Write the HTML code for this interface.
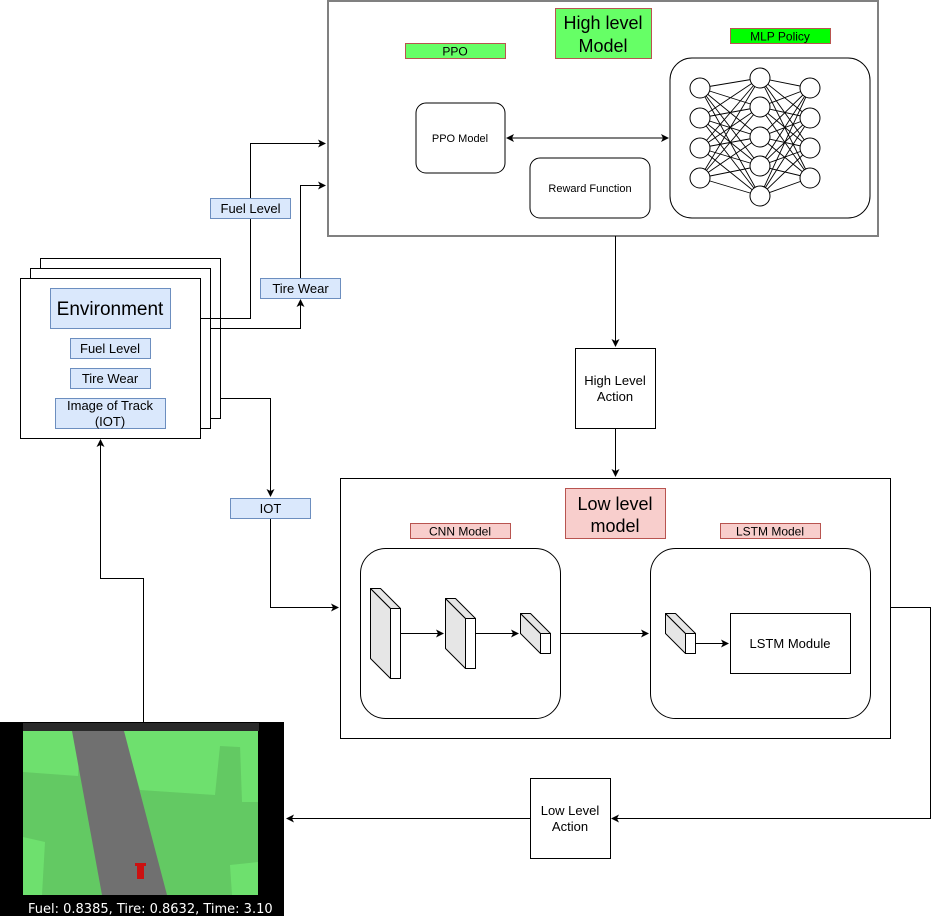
<!DOCTYPE html>
<html><head><meta charset="utf-8"><style>
html,body{margin:0;padding:0;background:#fff;}
svg{display:block;font-family:"Liberation Sans",Arial,sans-serif;}
</style></head><body>
<svg width="939" height="916" viewBox="0 0 939 916" xmlns="http://www.w3.org/2000/svg">
<defs>
<marker id="a" markerWidth="8" markerHeight="8" refX="7" refY="4" orient="auto" markerUnits="userSpaceOnUse">
<path d="M0,0 L8,4 L0,8 L2,4 Z" fill="#000"/></marker>
<marker id="as" markerWidth="8" markerHeight="8" refX="1" refY="4" orient="auto" markerUnits="userSpaceOnUse">
<path d="M8,0 L0,4 L8,8 L6,4 Z" fill="#000"/></marker>
</defs>
<rect width="939" height="916" fill="#fff"/>

<!-- High level box -->
<rect x="328" y="1" width="550" height="235" fill="#fff" stroke="#808080" stroke-width="2"/>
<rect x="405.5" y="43.5" width="100" height="15" fill="#66ff66" stroke="#b85450"/>
<text x="455" y="55.5" font-size="12" text-anchor="middle">PPO</text>
<rect x="555.5" y="8.5" width="96" height="50" fill="#66ff66" stroke="#b85450"/>
<text x="603" y="29" font-size="18" text-anchor="middle">High level</text>
<text x="603" y="52" font-size="18" text-anchor="middle">Model</text>
<rect x="730.5" y="28.5" width="100" height="15" fill="#00ff00" stroke="#b85450"/>
<text x="780" y="40.5" font-size="12" text-anchor="middle">MLP Policy</text>
<rect x="416" y="103" width="89" height="70" rx="10" fill="#fff" stroke="#000"/>
<text x="460" y="142" font-size="11" text-anchor="middle">PPO Model</text>
<rect x="530" y="158" width="120" height="60" rx="10" fill="#fff" stroke="#000"/>
<text x="590" y="192" font-size="11" text-anchor="middle">Reward Function</text>
<rect x="670" y="58" width="200" height="160" rx="22" fill="#fff" stroke="#000"/>
<line x1="507" y1="138" x2="668" y2="138" stroke="#000" marker-start="url(#as)" marker-end="url(#a)"/>
<path stroke="#000" stroke-width="0.9" fill="none" d="
M700 88L760 78M700 88L760 107M700 88L760 137M700 88L760 166M700 88L760 196
M700 118L760 78M700 118L760 107M700 118L760 137M700 118L760 166M700 118L760 196
M700 148L760 78M700 148L760 107M700 148L760 137M700 148L760 166M700 148L760 196
M700 178L760 78M700 178L760 107M700 178L760 137M700 178L760 166M700 178L760 196
M760 78L810 88M760 78L810 118M760 78L810 148M760 78L810 178
M760 107L810 88M760 107L810 118M760 107L810 148M760 107L810 178
M760 137L810 88M760 137L810 118M760 137L810 148M760 137L810 178
M760 166L810 88M760 166L810 118M760 166L810 148M760 166L810 178
M760 196L810 88M760 196L810 118M760 196L810 148M760 196L810 178"/>
<g fill="#fff" stroke="#000">
<circle cx="700" cy="88" r="10"/><circle cx="700" cy="118" r="10"/><circle cx="700" cy="148" r="10"/><circle cx="700" cy="178" r="10"/>
<circle cx="760" cy="78" r="10"/><circle cx="760" cy="107" r="10"/><circle cx="760" cy="137" r="10"/><circle cx="760" cy="166" r="10"/><circle cx="760" cy="196" r="10"/>
<circle cx="810" cy="88" r="10"/><circle cx="810" cy="118" r="10"/><circle cx="810" cy="148" r="10"/><circle cx="810" cy="178" r="10"/>
</g>

<!-- Environment stack -->
<rect x="40.5" y="258.5" width="180" height="160" fill="#fff" stroke="#000"/>
<rect x="30.5" y="268.5" width="180" height="160" fill="#fff" stroke="#000"/>
<rect x="20.5" y="278.5" width="180" height="160" fill="#fff" stroke="#000"/>
<rect x="50.5" y="288.5" width="120" height="40" fill="#dae8fc" stroke="#6c8ebf"/>
<text x="110" y="315" font-size="19" text-anchor="middle">Environment</text>
<rect x="70.5" y="338.5" width="80" height="20" fill="#dae8fc" stroke="#6c8ebf"/>
<text x="110" y="353" font-size="13" text-anchor="middle">Fuel Level</text>
<rect x="70.5" y="368.5" width="80" height="20" fill="#dae8fc" stroke="#6c8ebf"/>
<text x="110" y="383" font-size="13" text-anchor="middle">Tire Wear</text>
<rect x="55.5" y="398.5" width="110" height="30" fill="#dae8fc" stroke="#6c8ebf"/>
<text x="110" y="410" font-size="13" text-anchor="middle">Image of Track</text>
<text x="110" y="426" font-size="13" text-anchor="middle">(IOT)</text>

<!-- connectors from env -->
<polyline points="200.5,318.5 250.5,318.5 250.5,143.5 325,143.5" fill="none" stroke="#000" marker-end="url(#a)"/>
<polyline points="210.5,328.5 300.5,328.5 300.5,300" fill="none" stroke="#000" marker-end="url(#a)"/>
<polyline points="300.5,278 300.5,185.5 325,185.5" fill="none" stroke="#000" marker-end="url(#a)"/>
<polyline points="220.5,398.5 270.5,398.5 270.5,496" fill="none" stroke="#000" marker-end="url(#a)"/>
<polyline points="270.5,518 270.5,607.5 338,607.5" fill="none" stroke="#000" marker-end="url(#a)"/>
<rect x="210.5" y="198.5" width="80" height="20" fill="#dae8fc" stroke="#6c8ebf"/>
<text x="250.5" y="213" font-size="13" text-anchor="middle">Fuel Level</text>
<rect x="260.5" y="278.5" width="80" height="20" fill="#dae8fc" stroke="#6c8ebf"/>
<text x="300.5" y="293" font-size="13" text-anchor="middle">Tire Wear</text>
<rect x="230.5" y="498.5" width="80" height="20" fill="#dae8fc" stroke="#6c8ebf"/>
<text x="270.5" y="513" font-size="13" text-anchor="middle">IOT</text>

<!-- High level action -->
<line x1="615.5" y1="236" x2="615.5" y2="346" stroke="#000" marker-end="url(#a)"/>
<rect x="575.5" y="348.5" width="80" height="80" fill="#fff" stroke="#000"/>
<text x="615" y="385" font-size="13" text-anchor="middle">High Level</text>
<text x="615" y="401" font-size="13" text-anchor="middle">Action</text>
<line x1="615.5" y1="428" x2="615.5" y2="476" stroke="#000" marker-end="url(#a)"/>

<!-- Low level box -->
<rect x="340.5" y="478.5" width="550" height="260" fill="#fff" stroke="#000"/>
<rect x="565.5" y="488.5" width="100" height="50" fill="#f8cecc" stroke="#b85450"/>
<text x="615" y="510" font-size="18" text-anchor="middle">Low level</text>
<text x="615" y="532" font-size="18" text-anchor="middle">model</text>
<rect x="410.5" y="523.5" width="100" height="15" fill="#f8cecc" stroke="#b85450"/>
<text x="460" y="535.5" font-size="12" text-anchor="middle">CNN Model</text>
<rect x="720.5" y="523.5" width="100" height="15" fill="#f8cecc" stroke="#b85450"/>
<text x="770" y="535.5" font-size="12" text-anchor="middle">LSTM Model</text>
<rect x="360.5" y="548.5" width="200" height="170" rx="25" fill="#fff" stroke="#000"/>
<rect x="650.5" y="548.5" width="220" height="170" rx="25" fill="#fff" stroke="#000"/>
<rect x="730.5" y="613.5" width="120" height="60" fill="#fff" stroke="#000"/>
<text x="790" y="648" font-size="13" text-anchor="middle">LSTM Module</text>
<g stroke="#000" stroke-linejoin="round">
<polygon points="370.5,588.5 390.5,608.5 390.5,678.5 370.5,658.5" fill="#e6e6e6"/>
<polygon points="370.5,588.5 380.5,588.5 400.5,608.5 390.5,608.5" fill="#e6e6e6"/>
<rect x="390.5" y="608.5" width="10" height="70" fill="#fff"/>
<polygon points="445.5,598.5 465.5,618.5 465.5,668.5 445.5,648.5" fill="#e6e6e6"/>
<polygon points="445.5,598.5 455.5,598.5 475.5,618.5 465.5,618.5" fill="#e6e6e6"/>
<rect x="465.5" y="618.5" width="10" height="50" fill="#fff"/>
<polygon points="520.5,613.5 540.5,633.5 540.5,653.5 520.5,633.5" fill="#e6e6e6"/>
<polygon points="520.5,613.5 530.5,613.5 550.5,633.5 540.5,633.5" fill="#e6e6e6"/>
<rect x="540.5" y="633.5" width="10" height="20" fill="#fff"/>
<polygon points="665.5,613.5 685.5,633.5 685.5,653.5 665.5,633.5" fill="#e6e6e6"/>
<polygon points="665.5,613.5 675.5,613.5 695.5,633.5 685.5,633.5" fill="#e6e6e6"/>
<rect x="685.5" y="633.5" width="10" height="20" fill="#fff"/>
</g>
<line x1="400.5" y1="633.5" x2="443" y2="633.5" stroke="#000" marker-end="url(#a)"/>
<line x1="475.5" y1="633.5" x2="518" y2="633.5" stroke="#000" marker-end="url(#a)"/>
<line x1="560.5" y1="633.5" x2="648" y2="633.5" stroke="#000" marker-end="url(#a)"/>
<line x1="695.5" y1="643.5" x2="728" y2="643.5" stroke="#000" marker-end="url(#a)"/>

<!-- Low level action -->
<polyline points="890.5,607.5 930.5,607.5 930.5,818.5 612,818.5" fill="none" stroke="#000" marker-end="url(#a)"/>
<rect x="530.5" y="778.5" width="80" height="80" fill="#fff" stroke="#000"/>
<text x="570" y="815" font-size="13" text-anchor="middle">Low Level</text>
<text x="570" y="831" font-size="13" text-anchor="middle">Action</text>
<line x1="530.5" y1="818.5" x2="287" y2="818.5" stroke="#000" marker-end="url(#a)"/>

<polyline points="143.5,722 143.5,578.5 100.5,578.5 100.5,440" fill="none" stroke="#000" marker-end="url(#a)"/>

<!-- screenshot -->
<rect x="0" y="722" width="284" height="194" fill="#000"/>
<rect x="23" y="723" width="236" height="8" fill="#2a2a2a"/>
<rect x="23" y="731" width="235" height="164" fill="#63c963"/>
<polygon points="23,731 80,731 78,776 23,772" fill="#6ee06e"/>
<polygon points="123,731 258,731 258,748 220,746 215,795 140,790" fill="#6ee06e"/>
<polygon points="240,745 258,743 258,802 242,802" fill="#6ee06e"/>
<polygon points="23,837 45,842 42,895 23,895" fill="#6ee06e"/>
<polygon points="230,865 258,862 258,895 232,895" fill="#6ee06e"/>
<polygon points="72,731 124,731 167,895 102,895" fill="#707070"/>
<rect x="137" y="863" width="7" height="16" fill="#cc1111"/>
<rect x="135" y="863" width="11" height="3" fill="#cc1111"/>
<text x="28" y="913" font-size="13" fill="#fff" font-family="DejaVu Sans,sans-serif">Fuel: 0.8385, Tire: 0.8632, Time: 3.10</text>
</svg>
</body></html>
